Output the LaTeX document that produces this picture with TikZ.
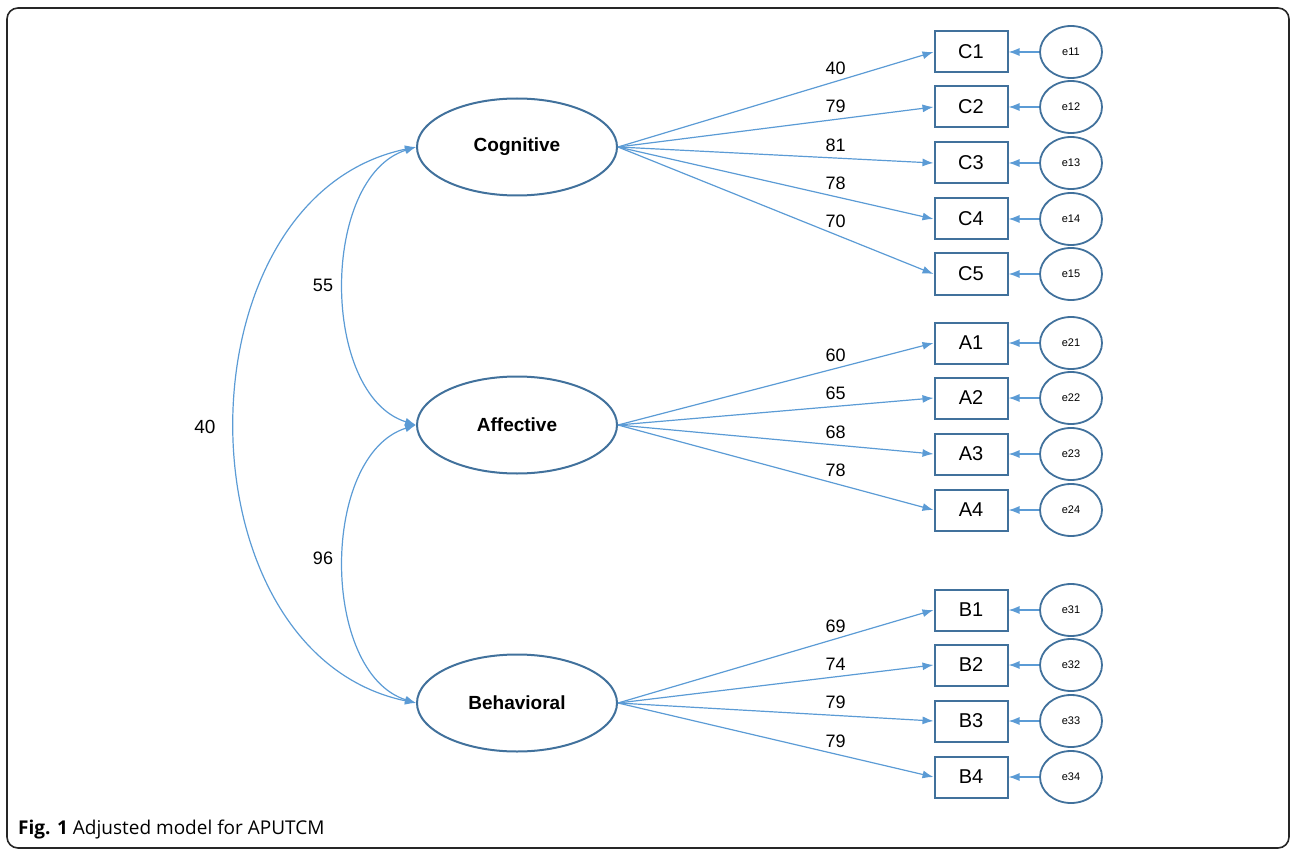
\documentclass[tikz,border=0pt]{standalone}
\usepackage{fontspec}
\setmainfont{Liberation Sans}
\newfontfamily\captionfont{Open Sans}
\usetikzlibrary{arrows.meta,shapes.geometric}

\definecolor{shapeblue}{HTML}{41719C}
\definecolor{arrowblue}{HTML}{5B9BD5}

\tikzset{
  latent/.style={ellipse, draw=shapeblue, line width=2pt, minimum width=200pt,
    minimum height=97pt, font=\fontsize{19}{22}\selectfont\bfseries},
  item/.style={rectangle, draw=shapeblue, line width=2pt, minimum width=73pt,
    minimum height=41pt, font=\fontsize{20}{23}\selectfont},
  errvar/.style={ellipse, draw=shapeblue, line width=1.8pt, minimum width=62pt,
    minimum height=52pt, inner sep=0pt, font=\fontsize{11}{13}\selectfont},
  loading/.style={draw=arrowblue, line width=1.2pt, -{Latex[length=11pt,width=8pt]}},
  covar/.style={draw=arrowblue, line width=1.2pt,
    {Latex[length=11pt,width=8pt]}-{Latex[length=11pt,width=8pt]}},
  coef/.style={font=\fontsize{18}{21}\selectfont, inner sep=2pt}
}

\begin{document}
\begin{tikzpicture}[x={(1pt,0)}, y={(0,-1pt)}]
\useasboundingbox (0,0) rectangle (1292,850);
\draw[line width=1.6pt, rounded corners=11pt, black!85] (7,8) rectangle (1289,848);

% latent factors
\node[latent] (cog) at (517,147) {Cognitive};
\node[latent] (aff) at (517,425) {Affective};
\node[latent] (beh) at (517,703) {Behavioral};

% observed items and their errors
\foreach \name/\lab/\ypos/\err in {c1/C1/52/e11, c2/C2/107/e12, c3/C3/163/e13,
    c4/C4/219/e14, c5/C5/274/e15, a1/A1/343/e21, a2/A2/398/e22, a3/A3/454/e23,
    a4/A4/510/e24, b1/B1/610/e31, b2/B2/665/e32, b3/B3/721/e33, b4/B4/777/e34}{
  \node[item] (\name) at (971,\ypos) {\lab};
  \node[errvar] (\err) at (1071,\ypos) {\err};
  \draw[loading] (\err.west) -- (\name.east);
}

% factor loadings
\draw[loading] (cog.east) -- node[coef, pos=0.69, above=4pt] {40} (c1.west);
\draw[loading] (cog.east) -- node[coef, pos=0.69, above=4pt] {79} (c2.west);
\draw[loading] (cog.east) -- node[coef, pos=0.69, above=4pt] {81} (c3.west);
\draw[loading] (cog.east) -- node[coef, pos=0.69, above=4pt] {78} (c4.west);
\draw[loading] (cog.east) -- node[coef, pos=0.69, above=4pt] {70} (c5.west);
\draw[loading] (aff.east) -- node[coef, pos=0.69, above=4pt] {60} (a1.west);
\draw[loading] (aff.east) -- node[coef, pos=0.69, above=4pt] {65} (a2.west);
\draw[loading] (aff.east) -- node[coef, pos=0.69, above=4pt] {68} (a3.west);
\draw[loading] (aff.east) -- node[coef, pos=0.69, above=4pt] {78} (a4.west);
\draw[loading] (beh.east) -- node[coef, pos=0.69, above=4pt] {69} (b1.west);
\draw[loading] (beh.east) -- node[coef, pos=0.69, above=4pt] {74} (b2.west);
\draw[loading] (beh.east) -- node[coef, pos=0.69, above=4pt] {79} (b3.west);
\draw[loading] (beh.east) -- node[coef, pos=0.69, above=4pt] {79} (b4.west);

% correlations between factors
\draw[covar] (cog.west) .. controls +(-96,30) and +(-96,-30) .. (aff.west);
\draw[covar] (aff.west) .. controls +(-96,30) and +(-96,-30) .. (beh.west);
\draw[covar] (cog.west) .. controls +(-241,50) and +(-241,-50) .. (beh.west);
\node[coef] (r12) at (323,285) {55};
\node[coef] (r23) at (323,558) {96};
\node[coef, font=\fontsize{19}{22}\selectfont] (r13) at (205,427) {40};

\node[anchor=base west, inner sep=0pt, font=\captionfont\fontsize{19}{22}\selectfont]
  (cap) at (18,834) {\textbf{Fig. 1} Adjusted model for APUTCM};
\end{tikzpicture}
\end{document}
